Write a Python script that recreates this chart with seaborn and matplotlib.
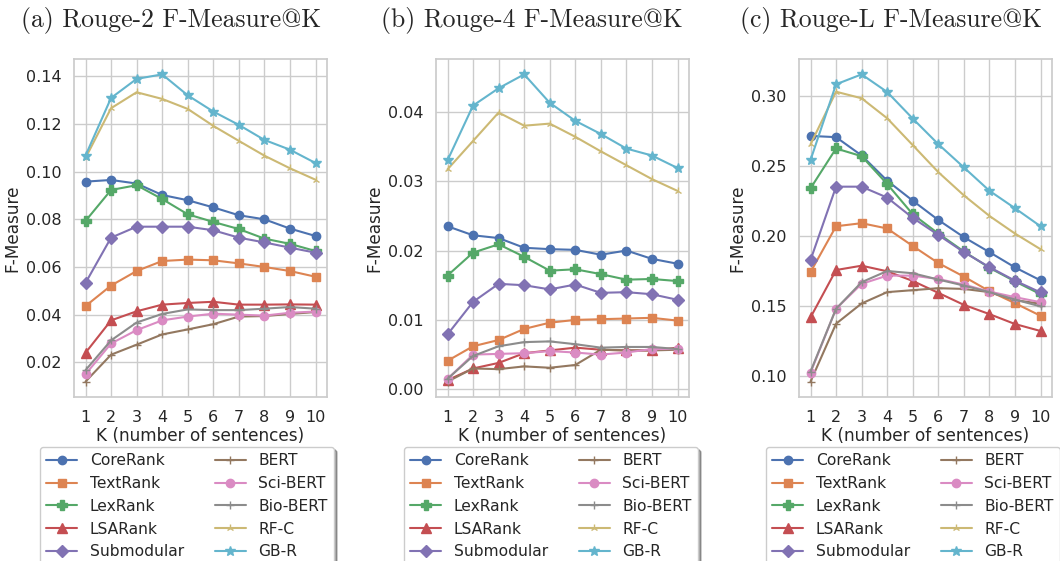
import matplotlib
matplotlib.use("Agg")
import matplotlib.pyplot as plt
import seaborn as sns
import numpy as np

K = [1, 2, 3, 4, 5, 6, 7, 8, 9, 10]
methods = ["CoreRank", "TextRank", "LexRank", "LSARank", "Submodular",
           "BERT", "Sci-BERT", "Bio-BERT", "RF-C", "GB-R"]
titles = ["(a) Rouge-2 F-Measure@K", "(b) Rouge-4 F-Measure@K", "(c) Rouge-L F-Measure@K"]

# ---- Rouge-2 ----
r2_corerank = [0.0958, 0.0965, 0.0950, 0.0902, 0.0880, 0.0850, 0.0817, 0.0800, 0.0761, 0.0730]
r2_textrank = [0.0436, 0.0522, 0.0583, 0.0625, 0.0631, 0.0628, 0.0615, 0.0600, 0.0583, 0.0559]
r2_lexrank = [0.0793, 0.0923, 0.0943, 0.0885, 0.0821, 0.0789, 0.0759, 0.0719, 0.0697, 0.0667]
r2_lsarank = [0.0240, 0.0376, 0.0414, 0.0442, 0.0449, 0.0454, 0.0442, 0.0442, 0.0443, 0.0442]
r2_submodular = [0.0533, 0.0723, 0.0769, 0.0769, 0.0769, 0.0754, 0.0723, 0.0703, 0.0681, 0.0660]
r2_bert = [0.0119, 0.0232, 0.0274, 0.0317, 0.0338, 0.0360, 0.0392, 0.0394, 0.0403, 0.0411]
r2_scibert = [0.0150, 0.0279, 0.0335, 0.0376, 0.0392, 0.0404, 0.0400, 0.0396, 0.0408, 0.0413]
r2_biobert = [0.0167, 0.0292, 0.0367, 0.0403, 0.0422, 0.0419, 0.0419, 0.0425, 0.0432, 0.0425]
r2_rfc = [0.1057, 0.1266, 0.1333, 0.1305, 0.1263, 0.1192, 0.1129, 0.1067, 0.1014, 0.0966]
r2_gbr = [0.1067, 0.1309, 0.1389, 0.1408, 0.1320, 0.1252, 0.1196, 0.1133, 0.1092, 0.1036]

# ---- Rouge-4 ----
r4_corerank = [0.0235, 0.0222, 0.0218, 0.0204, 0.0202, 0.0201, 0.0194, 0.0200, 0.0188, 0.0181]
r4_textrank = [0.0041, 0.0062, 0.0071, 0.0087, 0.0096, 0.0100, 0.0101, 0.0102, 0.0103, 0.0099]
r4_lexrank = [0.0164, 0.0197, 0.0209, 0.0191, 0.0171, 0.0173, 0.0166, 0.0158, 0.0159, 0.0156]
r4_lsarank = [0.0013, 0.0030, 0.0038, 0.0052, 0.0056, 0.0060, 0.0057, 0.0056, 0.0056, 0.0060]
r4_submodular = [0.0079, 0.0126, 0.0152, 0.0150, 0.0144, 0.0151, 0.0139, 0.0140, 0.0137, 0.0129]
r4_bert = [0.0011, 0.0030, 0.0029, 0.0033, 0.0031, 0.0035, 0.0057, 0.0056, 0.0056, 0.0057]
r4_scibert = [0.0015, 0.0050, 0.0051, 0.0052, 0.0055, 0.0053, 0.0050, 0.0053, 0.0058, 0.0058]
r4_biobert = [0.0015, 0.0048, 0.0062, 0.0068, 0.0069, 0.0065, 0.0060, 0.0061, 0.0061, 0.0058]
r4_rfc = [0.0317, 0.0358, 0.0399, 0.0380, 0.0383, 0.0364, 0.0343, 0.0323, 0.0303, 0.0286]
r4_gbr = [0.0330, 0.0409, 0.0434, 0.0454, 0.0413, 0.0387, 0.0368, 0.0347, 0.0337, 0.0319]

# ---- Rouge-L ----
rl_corerank = [0.2717, 0.2708, 0.2577, 0.2397, 0.2254, 0.2116, 0.1993, 0.1886, 0.1777, 0.1684]
rl_textrank = [0.1743, 0.2071, 0.2093, 0.2055, 0.1930, 0.1808, 0.1711, 0.1607, 0.1521, 0.1431]
rl_lexrank = [0.2342, 0.2627, 0.2572, 0.2373, 0.2157, 0.2019, 0.1891, 0.1774, 0.1677, 0.1585]
rl_lsarank = [0.1419, 0.1758, 0.1789, 0.1749, 0.1680, 0.1595, 0.1509, 0.1443, 0.1372, 0.1322]
rl_submodular = [0.1829, 0.2354, 0.2354, 0.2276, 0.2131, 0.2009, 0.1886, 0.1779, 0.1682, 0.1598]
rl_bert = [0.0960, 0.1374, 0.1519, 0.1600, 0.1614, 0.1628, 0.1623, 0.1600, 0.1543, 0.1517]
rl_scibert = [0.1024, 0.1481, 0.1659, 0.1718, 0.1718, 0.1694, 0.1654, 0.1604, 0.1564, 0.1528]
rl_biobert = [0.1031, 0.1481, 0.1671, 0.1751, 0.1735, 0.1690, 0.1647, 0.1600, 0.1547, 0.1498]
rl_rfc = [0.2656, 0.3033, 0.2986, 0.2843, 0.2651, 0.2458, 0.2292, 0.2145, 0.2019, 0.1907]
rl_gbr = [0.2544, 0.3086, 0.3157, 0.3031, 0.2841, 0.2658, 0.2492, 0.2325, 0.2200, 0.2071]

panels = [
    [r2_corerank, r2_textrank, r2_lexrank, r2_lsarank, r2_submodular,
     r2_bert, r2_scibert, r2_biobert, r2_rfc, r2_gbr],
    [r4_corerank, r4_textrank, r4_lexrank, r4_lsarank, r4_submodular,
     r4_bert, r4_scibert, r4_biobert, r4_rfc, r4_gbr],
    [rl_corerank, rl_textrank, rl_lexrank, rl_lsarank, rl_submodular,
     rl_bert, rl_scibert, rl_biobert, rl_rfc, rl_gbr],
]

sns.set_theme(style="whitegrid", context="notebook")
plt.rcParams["font.family"] = ["DejaVu Sans"]

palette = sns.color_palette("deep", 10)
markers = ["o", "s", "P", "^", "D", "+", "o", "+", "2", "*"]
msizes = [6, 6, 6.5, 6.5, 6, 6, 6, 6, 6, 7]

fig = plt.figure(figsize=(10.6, 5.61), dpi=100)
W, H = 1060.0, 561.0
ax_lefts = [74, 436, 799]
ax_w = 253
ax_top, ax_bot = 59, 397
title_x = [171, 532, 891]
legend_x = [187, 551, 913]

for p in range(3):
    ax = fig.add_axes([ax_lefts[p] / W, 1 - ax_bot / H, ax_w / W, (ax_bot - ax_top) / H])
    for i, name in enumerate(methods):
        sns.lineplot(x=K, y=panels[p][i], ax=ax, color=palette[i], marker=markers[i],
                     markersize=msizes[i], markeredgecolor=palette[i], markeredgewidth=1.0,
                     linewidth=1.5, label=name, legend=False)
    ax.set_xticks(K)
    ax.set_xlabel("K (number of sentences)", fontsize=12.2, labelpad=2)
    ax.set_ylabel("F-Measure", fontsize=12.2, labelpad=3)
    ax.tick_params(labelsize=11.5, pad=3)
    handles, labels = ax.get_legend_handles_labels()
    fig.legend(handles, labels, loc="upper center", ncol=2, fontsize=11.2,
               bbox_to_anchor=(legend_x[p] / W, 1 - 447 / H), frameon=True,
               shadow=True, fancybox=True, borderaxespad=0)
    fig.text(title_x[p] / W, 1 - 20 / H, titles[p], ha="center", va="center",
             fontsize=18.5, family=["cmr10", "DejaVu Serif"])

fig.savefig("out.png", dpi=100)
